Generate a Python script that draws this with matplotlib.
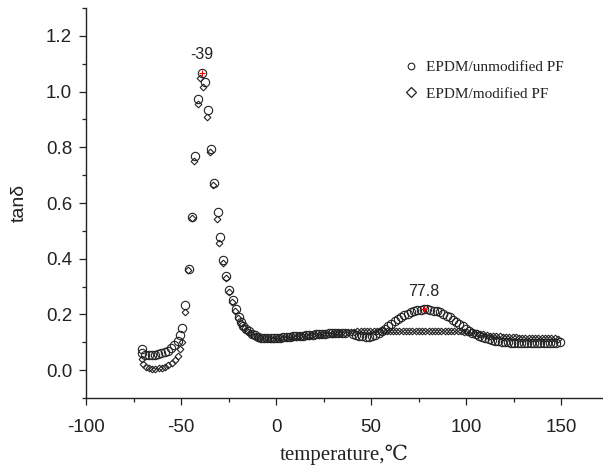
import numpy as np
import matplotlib.pyplot as plt
from matplotlib.lines import Line2D
from matplotlib.ticker import MultipleLocator

# ==========================================
# tanδ vs temperature (DMA)
# ==========================================
temp_unmod = [
    -70.6, -70.3, -68.8, -67.1, -65.4, -63.7, -62.0, -60.3, -58.6, -56.9,
    -55.2, -53.5, -51.8, -50.6, -49.5, -47.7, -46.0, -44.2, -42.6, -40.9,
    -39.1, -37.2, -36.0, -34.2, -32.5, -30.7, -29.5, -27.7, -26.3, -24.8,
    -22.8, -21.1, -19.7, -18.3, -17.2, -15.8, -14.4, -12.8, -11.2, -9.6,
    -8.0, -6.3, -4.6, -2.9, -1.2, 0.5, 2.2, 3.9, 5.6, 7.3,
    9.0, 10.7, 12.4, 14.1, 15.8, 17.5, 19.2, 20.9, 22.6, 24.3,
    26.0, 27.7, 29.4, 31.1, 32.8, 34.5, 36.2, 40.3, 42.0, 43.7,
    45.4, 47.1, 48.8, 50.5, 52.2, 53.9, 55.6, 57.3, 59.0, 60.7,
    62.4, 64.1, 65.8, 67.5, 69.2, 70.9, 72.6, 74.4, 76.1, 77.8,
    79.5, 81.2, 82.9, 84.6, 86.3, 88.0, 89.7, 91.4, 93.1, 94.8,
    96.5, 98.2, 99.9, 101.6, 103.3, 105.0, 106.7, 108.4, 110.1, 111.8,
    113.5, 115.2, 116.9, 118.6, 120.3, 122.0, 123.7, 125.4, 127.1, 128.8,
    130.5, 132.2, 133.9, 135.6, 137.3, 139.0, 140.7, 142.4, 144.1, 145.8,
    147.5, 149.2,
]
tand_unmod = [
    0.075, 0.062, 0.056, 0.054, 0.054, 0.056, 0.059, 0.062, 0.065, 0.070,
    0.078, 0.090, 0.106, 0.125, 0.153, 0.233, 0.362, 0.549, 0.768, 0.975,
    1.068, 1.036, 0.935, 0.794, 0.671, 0.567, 0.477, 0.394, 0.338, 0.289,
    0.251, 0.218, 0.191, 0.173, 0.159, 0.149, 0.139, 0.131, 0.125, 0.120,
    0.117, 0.115, 0.114, 0.114, 0.115, 0.116, 0.117, 0.118, 0.119, 0.120,
    0.121, 0.122, 0.123, 0.124, 0.125, 0.126, 0.127, 0.128, 0.129, 0.130,
    0.131, 0.132, 0.132, 0.133, 0.133, 0.134, 0.134, 0.130, 0.127, 0.124,
    0.121, 0.119, 0.119, 0.121, 0.126, 0.133, 0.141, 0.149, 0.158, 0.166,
    0.175, 0.183, 0.190, 0.197, 0.203, 0.208, 0.212, 0.215, 0.217, 0.218,
    0.218, 0.216, 0.214, 0.211, 0.207, 0.202, 0.196, 0.189, 0.181, 0.173,
    0.165, 0.157, 0.149, 0.141, 0.134, 0.128, 0.123, 0.118, 0.114, 0.111,
    0.108, 0.106, 0.104, 0.102, 0.101, 0.100, 0.099, 0.098, 0.098, 0.097,
    0.097, 0.097, 0.097, 0.097, 0.097, 0.097, 0.097, 0.097, 0.098, 0.098,
    0.099, 0.100,
]

temp_mod = [
    -70.6, -70.2, -68.6, -66.9, -65.2, -63.5, -61.8, -60.1, -58.4, -56.7,
    -55.0, -53.3, -51.6, -50.3, -49.3, -48.1, -46.1, -44.3, -43.0, -41.2,
    -39.8, -38.3, -36.6, -34.6, -33.0, -31.3, -29.8, -28.0, -26.5, -25.0,
    -23.2, -21.5, -20.0, -18.6, -17.4, -16.0, -14.6, -13.0, -11.4, -9.8,
    -8.2, -6.5, -4.8, -3.1, -1.4, 0.3, 2.0, 3.7, 5.4, 7.1,
    8.8, 10.5, 12.2, 13.9, 15.6, 17.3, 19.0, 20.7, 22.4, 24.1,
    25.8, 27.5, 29.2, 30.9, 32.6, 34.3, 36.0, 37.7, 39.4, 41.1,
    42.8, 44.5, 46.2, 47.9, 49.6, 51.3, 53.0, 54.7, 56.4, 58.1,
    59.8, 61.5, 63.2, 64.9, 66.6, 68.3, 70.0, 71.7, 73.4, 75.1,
    76.8, 78.5, 80.2, 81.9, 83.6, 85.3, 87.0, 88.7, 90.4, 92.1,
    93.8, 95.5, 97.2, 98.9, 100.6, 102.3, 104.0, 105.7, 107.4, 109.1,
    110.8, 112.5, 114.2, 115.9, 117.6, 119.3, 121.0, 122.7, 124.4, 126.1,
    127.8, 129.5, 131.2, 132.9, 134.6, 136.3, 138.0, 139.7, 141.4, 143.1,
    144.8, 146.5, 148.2,
]
tand_mod = [
    0.040, 0.022, 0.012, 0.006, 0.003, 0.003, 0.006, 0.009, 0.013, 0.019,
    0.026, 0.036, 0.052, 0.075, 0.100, 0.207, 0.360, 0.545, 0.750, 0.957,
    1.048, 1.017, 0.907, 0.782, 0.663, 0.543, 0.456, 0.385, 0.330, 0.282,
    0.245, 0.212, 0.187, 0.168, 0.155, 0.145, 0.136, 0.129, 0.124, 0.120,
    0.117, 0.115, 0.114, 0.113, 0.113, 0.114, 0.115, 0.116, 0.117, 0.118,
    0.119, 0.120, 0.121, 0.122, 0.123, 0.124, 0.125, 0.126, 0.127, 0.128,
    0.129, 0.130, 0.131, 0.132, 0.133, 0.134, 0.135, 0.136, 0.137, 0.138,
    0.139, 0.139, 0.140, 0.140, 0.140, 0.140, 0.140, 0.140, 0.140, 0.140,
    0.140, 0.140, 0.140, 0.140, 0.140, 0.140, 0.140, 0.140, 0.140, 0.140,
    0.140, 0.140, 0.140, 0.140, 0.140, 0.140, 0.140, 0.140, 0.140, 0.140,
    0.140, 0.140, 0.139, 0.138, 0.137, 0.136, 0.134, 0.132, 0.130, 0.128,
    0.126, 0.124, 0.123, 0.122, 0.121, 0.120, 0.119, 0.119, 0.118, 0.118,
    0.117, 0.117, 0.117, 0.116, 0.116, 0.116, 0.115, 0.115, 0.115, 0.114,
    0.114, 0.114, 0.113,
]

label_unmod = 'EPDM/unmodified PF'
label_mod = 'EPDM/modified PF'

ink = '#222222'
sans = ['Liberation Sans', 'DejaVu Sans']
serif = ['Liberation Serif', 'DejaVu Serif', 'Noto Sans CJK SC']

plt.rcParams['font.family'] = sans
plt.rcParams['axes.unicode_minus'] = False

fig = plt.figure(figsize=(6.03, 4.66), dpi=100)
ax = fig.add_axes([86 / 603, 1 - 398 / 466, 1 - 86 / 603, 390 / 466])

ax.plot(temp_unmod, tand_unmod, 'o', ms=6, mfc='none', mec=ink, mew=0.8)
ax.plot(temp_mod, tand_mod, 'D', ms=3.4, mfc='none', mec=ink, mew=0.8)

# peak markers + labels
tu = np.array(temp_unmod)
yu = np.array(tand_unmod)
for lo, hi, txt in [(-60, 0, '-39'), (50, 120, '77.8')]:
    sel = np.where((tu > lo) & (tu < hi))[0]
    k = sel[np.argmax(yu[sel])]
    ax.plot(tu[k], yu[k], '+', color='red', ms=5, mew=0.8)
    ax.annotate(txt, xy=(tu[k], yu[k]), xytext=(0, 12.7), textcoords='offset points',
                ha='center', va='center', fontsize=11.5, color=ink)

ax.set_xlim(-100, 172)
ax.set_ylim(-0.1, 1.3)
ax.xaxis.set_major_locator(MultipleLocator(50))
ax.xaxis.set_minor_locator(MultipleLocator(25))
ax.yaxis.set_major_locator(MultipleLocator(0.2))
ax.yaxis.set_minor_locator(MultipleLocator(0.1))
ax.yaxis.set_major_formatter(plt.FuncFormatter(lambda v, p: f'{v:.1f}'))

for s in ['top', 'right']:
    ax.spines[s].set_visible(False)
for s in ['left', 'bottom']:
    ax.spines[s].set_color(ink)
    ax.spines[s].set_linewidth(1.0)

ax.tick_params(which='major', direction='out', length=5, width=0.9, color=ink,
               labelsize=13.5, labelcolor=ink, pad=5)
ax.tick_params(axis='x', which='major', pad=10)
ax.tick_params(which='minor', direction='out', length=3, width=0.9, color=ink)

ax.set_xlabel('temperature,℃', family=serif, fontsize=15, color=ink, labelpad=6)
ax.set_ylabel('tanδ', fontsize=14, color=ink, labelpad=13)

handles = [
    Line2D([], [], ls='none', marker='o', ms=4.8, mfc='none', mec=ink, mew=0.8),
    Line2D([], [], ls='none', marker='D', ms=5.0, mfc='none', mec=ink, mew=0.9),
]
ax.legend(handles, [label_unmod, label_mod], loc='upper left',
          bbox_to_anchor=(396 / 603, 1 - 53 / 466), bbox_transform=fig.transFigure,
          frameon=False, borderpad=0, handlelength=1.0, handletextpad=0.46,
          labelspacing=0.83, prop={'family': serif, 'size': 11}, labelcolor=ink)

plt.savefig('out.png', dpi=100, facecolor='white')
plt.close()
